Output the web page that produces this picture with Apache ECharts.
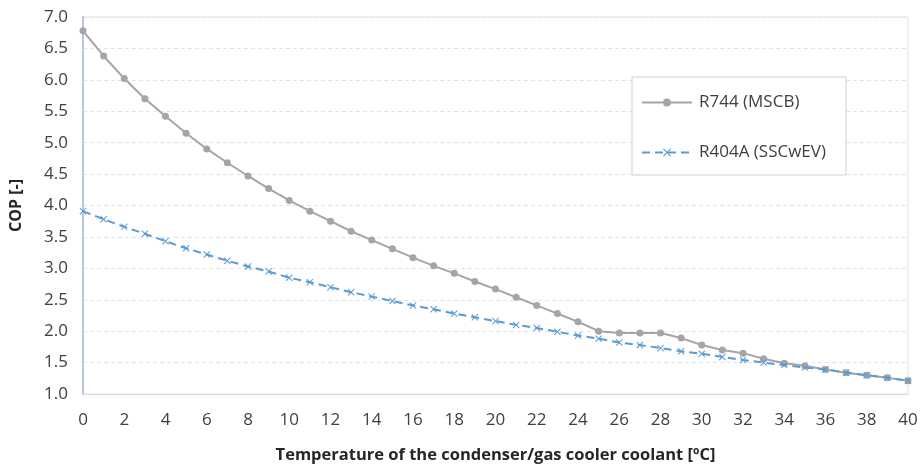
<!DOCTYPE html>
<html><head><meta charset="utf-8">
<script src="https://cdn.jsdelivr.net/npm/echarts@6/dist/echarts.min.js"></script>
<style>html,body{margin:0;padding:0;background:#fff}#c{width:921px;height:465px}</style>
</head><body><div id="c"></div>
<script>
const temps = [0,1,2,3,4,5,6,7,8,9,10,11,12,13,14,15,16,17,18,19,20,21,22,23,24,25,26,27,28,29,30,31,32,33,34,35,36,37,38,39,40];
const r744 = [6.78,6.38,6.02,5.70,5.42,5.15,4.90,4.68,4.47,4.27,4.08,3.91,3.75,3.59,3.45,3.31,3.17,3.04,2.92,2.79,2.67,2.54,2.41,2.28,2.15,2.00,1.97,1.97,1.97,1.89,1.78,1.70,1.65,1.56,1.49,1.45,1.39,1.34,1.30,1.26,1.21];
const r404a = [3.91,3.78,3.66,3.55,3.43,3.32,3.22,3.12,3.03,2.95,2.85,2.78,2.70,2.62,2.55,2.48,2.41,2.35,2.28,2.22,2.16,2.10,2.05,1.99,1.93,1.88,1.82,1.78,1.73,1.68,1.64,1.59,1.54,1.50,1.46,1.42,1.39,1.34,1.30,1.26,1.21];
const seriesNames = ['R744 (MSCB)', 'R404A (SSCwEV)'];
const xTitle = 'Temperature of the condenser/gas cooler coolant [ºC]';
const yTitle = 'COP [-]';

const FONT = '"Open Sans", "Liberation Sans", sans-serif';
const crossPath = 'path://M0,1 L1,0 L5,4 L9,0 L10,1 L6,5 L10,9 L9,10 L5,6 L1,10 L0,9 L4,5 Z';
const chart = echarts.init(document.getElementById('c'), null, {renderer: 'canvas'});
chart.setOption({
  animation: false,
  backgroundColor: '#fff',
  grid: {left: 83, right: 13, top: 17, bottom: 71, show: true, borderColor: '#e2dfe2', borderWidth: 1,
         containLabel: false, outerBoundsMode: 'none'},
  legend: {
    orient: 'vertical', left: 632, top: 77,
    padding: [17, 20, 14, 9], itemGap: 33, itemWidth: 50, itemHeight: 10,
    borderColor: '#d0d0d0', borderWidth: 1, backgroundColor: '#fff',
    textStyle: {fontFamily: FONT, fontSize: 17, color: '#404040', padding: [0,0,0,2]},
    data: seriesNames
  },
  xAxis: {
    type: 'value', min: 0, max: 40, interval: 2,
    name: xTitle, nameLocation: 'middle', nameGap: 53,
    nameTextStyle: {fontFamily: FONT, fontSize: 16.5, fontWeight: 'bold', color: '#262626'},
    axisLine: {show: true, lineStyle: {color: '#d6dce6', width: 1}},
    axisTick: {show: false},
    axisLabel: {fontFamily: FONT, fontSize: 17, color: '#404040', margin: 18},
    splitLine: {show: false}
  },
  yAxis: {
    type: 'value', min: 1, max: 7, interval: 0.5,
    name: yTitle, nameLocation: 'middle', nameGap: 59, nameRotate: 90,
    nameTextStyle: {fontFamily: FONT, fontSize: 16, fontWeight: 'bold', color: '#262626'},
    axisLine: {show: true, lineStyle: {color: '#b8c7de', width: 2}},
    axisTick: {show: false},
    axisLabel: {fontFamily: FONT, fontSize: 17, color: '#404040', margin: 15, formatter: v => v.toFixed(1)},
    splitLine: {show: true, lineStyle: {color: '#dfe4ee', type: [4, 3], width: 1}}
  },
  series: [
    {
      name: seriesNames[0], type: 'line',
      data: temps.map((t, i) => [t, r744[i]]),
      symbol: 'circle', symbolSize: 7,
      lineStyle: {color: '#a5a5a5', width: 2},
      itemStyle: {color: '#a5a5a5'},
      z: 2
    },
    {
      name: seriesNames[1], type: 'line',
      data: temps.map((t, i) => [t, r404a[i]]),
      symbol: crossPath, symbolSize: 7,
      lineStyle: {color: '#5b9bd5', width: 2, type: [8, 5]},
      itemStyle: {color: '#5b9bd5'},
      z: 3
    }
  ]
});
</script></body></html>
